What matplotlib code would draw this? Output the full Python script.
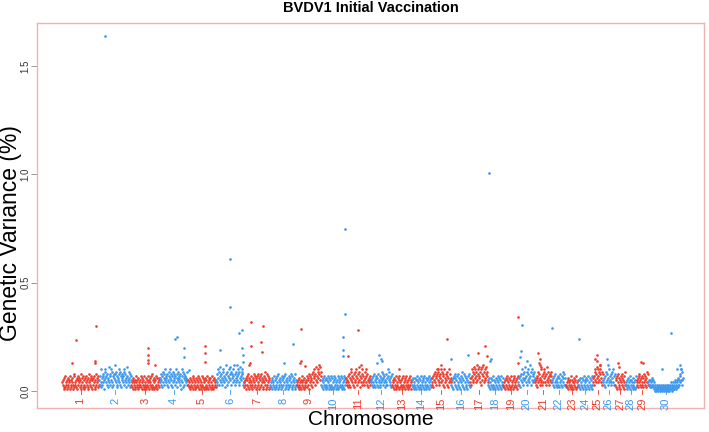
import matplotlib
matplotlib.use("Agg")
import matplotlib.pyplot as plt
import matplotlib.transforms as mtransforms

plt.rcParams['font.family'] = ['Liberation Sans', 'DejaVu Sans']

# chromosome names and lengths (Mb)
chrom_names = [str(i) for i in range(1, 31)]
chrom_len_mb = [158, 137, 121, 120, 121, 119, 112, 113, 105, 104,
                107, 91, 84, 84, 85, 81, 75, 66, 64, 72,
                71, 61, 52, 62, 43, 52, 45, 46, 51, 148]

# background markers per chromosome, evenly spaced along the chromosome,
# one base-36 character per marker = genetic variance in 0.01 %
band_strings = [
    "4352617243153625471325463172843526153746251836427153624735162845372615364725183647253",
    "5374a2638475196a4738526b48375a2947386c5849372658a4937265847a3958264b7359462857",
    "3425163425174352613425372614352713426153742516342718352614253726143526",
    "4638527496385a7463852947a6385274968537a4628597463851a74926385746953",
    "3524162534261735241625372416352417362514263517241635261437251624352",
    "5384a6395b7486395a7462c8593746a8b5936847a5c8396475a8394b6758a9364",
    "4253617352841635274136528473615273846152738461527493615283746152",
    "3425163427153624718352643172536471835246137253648172536418253",
    "3425163425174352613425472635184736582947a6385b7496a8c5b97",
    "3526143725163527413625173624152736142537162435271634251736",
    "4635274836295a4736285947a6384b5927463a8475396a47385264735",
    "4536274835264736284537264958364725384637a59364728",
    "3425163527143625172435162734251637241536273415",
    "3526143625173524163527143625173426153627143526",
    "4637285946378a5947386a4958372a6485937264a5846",
    "3526174836251748362517493625184736251748362",
    "4637a5948b6a7495c8a6b7493a8b5c7496a58b794",
    "3526143625173524163527143625173426",
    "3425163527143625172435162734251637",
    "4637285a4638596b4739a5846c7395a847596",
    "4536274958364a5738496a47385b4967385947",
    "4536274835264736284537264938362",
    "3425163425173524163425172435",
    "3526143625173524163527143625173",
    "4637a5948b6a7495c8a64938",
    "4536274958364a5738496a4738",
    "3526174836251748362517493",
    "3425163425173524163425172",
    "4536274835264736284537264938",
    "4352534253625341203102132012310213201321023120132103120132142031243152431524362537485a5936",
]

# isolated markers above the background band
peak_chrom = [2, 1, 1, 1, 1, 1, 3, 3, 3, 3, 3, 4, 4, 4, 4, 4, 5, 5, 5,
              6, 6, 6, 6, 6, 6, 6, 6, 6, 7, 7, 7, 7, 7, 7, 7, 8, 8,
              9, 9, 9, 9, 10, 10, 10, 10, 10, 11, 11, 11, 12, 12, 12, 12,
              13, 15, 15, 15, 16, 16, 17, 17, 17, 18, 18, 18, 19, 19,
              20, 20, 20, 20, 21, 21, 21, 21, 21, 22, 24, 25, 25, 25, 25,
              26, 26, 27, 27, 29, 29, 30, 30, 30, 30, 30]
peak_pos_mb = [25, 60, 145, 43, 140, 141, 72, 72, 72, 72, 101, 65, 74, 103, 103, 124, 76, 72, 76,
               61, 61, 17, 100, 110, 110, 115, 114, 88, 29, 29, 83, 75, 77, 28, 24, 98, 59,
               19, 19, 15, 36, 100, 100, 94, 94, 94, 52, 9, 64, 34, 43, 47, 26,
               29, 65, 43, 30, 1, 71, 63, 34, 70, 5, 15, 10, 63, 62,
               15, 11, 6, 38, 14, 19, 16, 19, 24, 3, 2, 17, 19, 31, 8,
               17, 22, 13, 18, 20, 30, 99, 136, 124, 60, 140]
peak_value = [1.638, 0.235, 0.30, 0.13, 0.14, 0.13, 0.20, 0.165, 0.143, 0.13, 0.12, 0.24, 0.25, 0.20, 0.157, 0.097, 0.21, 0.175, 0.134,
              0.61, 0.39, 0.19, 0.27, 0.20, 0.28, 0.165, 0.134, 0.12, 0.32, 0.21, 0.30, 0.226, 0.18, 0.13, 0.12, 0.215, 0.13,
              0.285, 0.14, 0.13, 0.115, 0.75, 0.355, 0.25, 0.19, 0.16, 0.28, 0.16, 0.12, 0.165, 0.15, 0.14, 0.13,
              0.10, 0.24, 0.12, 0.10, 0.15, 0.165, 0.21, 0.175, 0.16, 1.006, 0.15, 0.14, 0.34, 0.13,
              0.305, 0.185, 0.155, 0.14, 0.175, 0.15, 0.13, 0.12, 0.11, 0.29, 0.24, 0.165, 0.14, 0.12, 0.15,
              0.15, 0.12, 0.13, 0.11, 0.135, 0.13, 0.27, 0.12, 0.10, 0.10, 0.10]

red = '#ee3a2c'
blue = '#3b97ef'

fig = plt.figure(figsize=(7.09, 4.32), dpi=100)
ax = fig.add_axes([37 / 709, 24 / 432, 667 / 709, 385 / 432])

starts = []
acc = 0
for length in chrom_len_mb:
    starts.append(acc)
    acc += length
mids = [s + l / 2 for s, l in zip(starts, chrom_len_mb)]
colors = [red if i % 2 == 0 else blue for i in range(len(chrom_names))]

for i, s in enumerate(band_strings):
    n = len(s)
    xs = [starts[i] + (k + 0.5) / n * chrom_len_mb[i] for k in range(n)]
    ys = [int(c, 36) / 100 for c in s]
    ax.plot(xs, ys, 'o', ms=1.9, mew=0, color=colors[i], clip_on=False)

for c, p, v in zip(peak_chrom, peak_pos_mb, peak_value):
    ax.plot(starts[c - 1] + p, v, 'o', ms=1.9, mew=0, color=colors[c - 1])

ax.set_xlim(-107, acc + 90)
ax.set_ylim(-0.078, 1.698)

for sp in ax.spines.values():
    sp.set_color('#f3b2b2')
    sp.set_linewidth(1.0)

ax.set_xticks([])
ax.set_yticks([0.0, 0.5, 1.0, 1.5])
ax.set_yticklabels(['0.0', '0.5', '1.0', '1.5'], rotation=90, va='center',
                   fontsize=7, color='#333333')
ax.tick_params(axis='y', length=4, width=0.6, color='#888888', pad=0.5)

trans = mtransforms.blended_transform_factory(ax.transData, ax.transAxes)
for i, m in enumerate(mids):
    ax.plot([m, m], [0.036, 0.048], color=colors[i], lw=0.6, transform=trans,
            clip_on=False)
    ax.text(m, 0.027, chrom_names[i], rotation=90, ha='center', va='top',
            fontsize=8, color=colors[i], transform=trans, clip_on=False)

fig.text(0.523, 0.981, 'BVDV1 Initial Vaccination', ha='center', va='center',
         fontsize=10.5, fontweight='bold')
fig.text(0.0145, 0.46, 'Genetic Variance (%)', rotation=90, ha='center',
         va='center', fontsize=16.5)
fig.text(0.523, 0.028, 'Chromosome', ha='center', va='center', fontsize=15)

fig.savefig('out.png', dpi=100)
